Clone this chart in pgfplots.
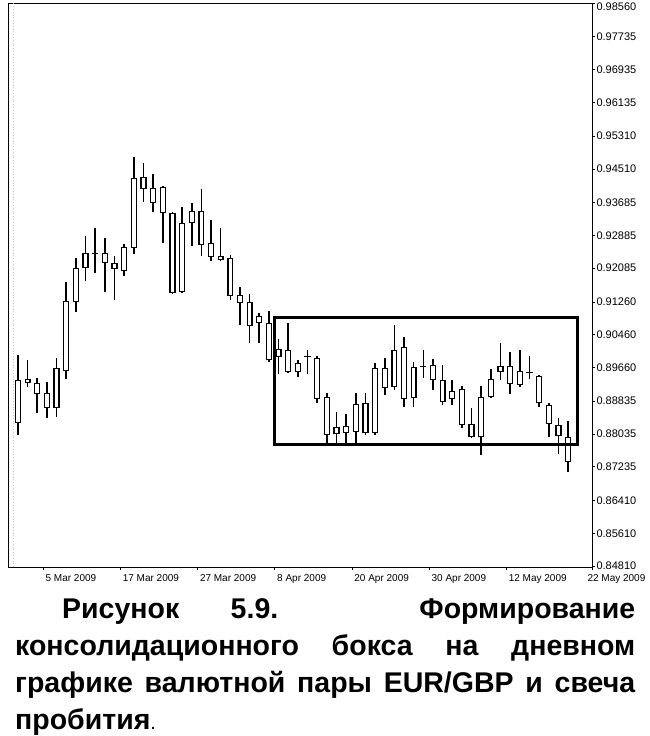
\documentclass[border=0pt]{standalone}
\usepackage{pgfplots}
\pgfplotsset{compat=1.18}
\usepackage{pgfplotstable}
\usepackage{fontspec}
\setmainfont{Liberation Sans}

\pgfplotstableread{
i lo hi bb bt
0 0.88009 0.89963 0.88302 0.89352
1 0.89181 0.89841 0.89279 0.89377
2 0.88546 0.89401 0.89010 0.89279
3 0.88424 0.89303 0.88668 0.89035
4 0.88449 0.89890 0.88668 0.89645
5 0.89377 0.91746 0.89572 0.91282
6 0.91013 0.92332 0.91257 0.92088
7 0.91770 0.92869 0.92088 0.92454
8 0.91966 0.93065 0.92430 0.92454
9 0.91501 0.92820 0.92210 0.92454
10 0.91306 0.92381 0.92063 0.92210
11 0.91892 0.92674 0.92014 0.92601
12 0.92430 0.94799 0.92576 0.94286
13 0.93700 0.94652 0.94017 0.94310
14 0.93455 0.94383 0.93675 0.94042
15 0.92698 0.94090 0.93431 0.94066
16 0.91453 0.93455 0.91477 0.93431
17 0.91477 0.93577 0.91501 0.93187
18 0.92625 0.93675 0.93187 0.93480
19 0.92381 0.94017 0.92649 0.93480
20 0.92259 0.93260 0.92356 0.92698
21 0.92259 0.93065 0.92283 0.92381
22 0.91306 0.92405 0.91404 0.92332
23 0.90696 0.91624 0.91233 0.91428
24 0.90256 0.91453 0.90671 0.91257
25 0.90256 0.90989 0.90744 0.90915
26 0.89792 0.91037 0.89841 0.90744
27 0.89499 0.90354 0.89914 0.90109
28 0.89523 0.90744 0.89548 0.90085
29 0.89425 0.89841 0.89548 0.89767
30 0.89499 0.90085 0.89914 0.89938
31 0.88790 0.89938 0.88888 0.89890
32 0.87814 0.89035 0.88009 0.88937
33 0.87814 0.88571 0.88033 0.88204
34 0.87814 0.88522 0.88058 0.88229
35 0.87814 0.89035 0.88082 0.88766
36 0.88009 0.89035 0.88058 0.88790
37 0.88009 0.89767 0.88058 0.89645
38 0.88986 0.89890 0.89157 0.89645
39 0.89108 0.90696 0.89181 0.90085
40 0.88693 0.90402 0.88888 0.90158
41 0.88693 0.89792 0.88913 0.89670
42 0.89401 0.90085 0.89670 0.89694
43 0.89108 0.89865 0.89352 0.89719
44 0.88742 0.89719 0.88815 0.89352
45 0.88742 0.89352 0.88888 0.89084
46 0.88180 0.89206 0.88253 0.89132
47 0.87936 0.88668 0.87960 0.88278
48 0.87521 0.89206 0.87960 0.88937
49 0.88913 0.89621 0.88937 0.89377
50 0.89352 0.90256 0.89548 0.89694
51 0.89010 0.90036 0.89255 0.89694
52 0.89181 0.90085 0.89230 0.89572
53 0.89377 0.89938 0.89523 0.89548
54 0.88693 0.89474 0.88790 0.89450
55 0.87960 0.88790 0.88278 0.88742
56 0.87545 0.88424 0.87985 0.88253
57 0.87105 0.88351 0.87350 0.87960
}\candles

\begin{document}
\begin{tikzpicture}
\useasboundingbox (0,0) rectangle (650pt,-736pt);
\begin{axis}[
  at={(8pt,-3pt)}, anchor=north west,
  scale only axis, width=584pt, height=564pt,
  xmin=-1.036, xmax=59.48, ymin=0.84785, ymax=0.98560,
  axis line style={black, line width=0.8pt},
  xtick pos=left, ytick pos=right, yticklabel pos=right,
  tick align=outside, major tick length=3pt,
  tick style={black, line width=0.6pt},
  ytick={0.84810,0.85610,0.86410,0.87235,0.88035,0.88835,0.89660,0.90460,0.91260,0.92085,0.92885,0.93685,0.94510,0.95310,0.96135,0.96935,0.97735},
  yticklabels={0.84810,0.85610,0.86410,0.87235,0.88035,0.88835,0.89660,0.90460,0.91260,0.92085,0.92885,0.93685,0.94510,0.95310,0.96135,0.96935,0.97735},
  yticklabel style={font=\fontsize{11}{13}\selectfont, anchor=west, xshift=-2pt},
  extra y ticks={0.98560},
  extra y tick labels={0.98560},
  extra y tick style={yticklabel style={anchor=west, yshift=-3.5pt}},
  xtick={2.6,10.6,18.6,26.6,34.6,42.6,50.6},
  xticklabels={5 Mar 2009,17 Mar 2009,27 Mar 2009,8 Apr 2009,20 Apr 2009,30 Apr 2009,12 May 2009},
  xticklabel style={font=\fontsize{10}{12}\selectfont, anchor=north west, xshift=-1pt, yshift=-1pt},
  extra x ticks={59.48},
  extra x tick labels={22 May 2009},
  extra x tick style={xticklabel style={anchor=north west, xshift=-7pt}},
  clip=true,
]
% faint dotted separator near left edge
\addplot[gray!45, dotted, line width=0.8pt, forget plot] coordinates {(-0.5,0.84785) (-0.5,0.98560)};
% wicks
\addplot[draw=none, forget plot,
  error bars/.cd, y dir=plus, y explicit, error mark=none,
  error bar style={draw=black, line width=1.6pt, line cap=butt}]
  table[x=i, y=lo, y error plus expr=\thisrow{hi}-\thisrow{lo}] {\candles};
% bodies (outline)
\addplot[draw=none, forget plot,
  error bars/.cd, y dir=plus, y explicit, error mark=none,
  error bar style={draw=black, line width=6.2pt, line cap=butt}]
  table[x=i, y=bb, y error plus expr=\thisrow{bt}-\thisrow{bb}] {\candles};
% bodies (hollow interior)
\addplot[draw=none, forget plot,
  error bars/.cd, y dir=plus, y explicit, error mark=none,
  error bar style={draw=white, line width=3.6pt, line cap=butt}]
  table[x=i, y expr=\thisrow{bb}+0.00032, y error plus expr={max(\thisrow{bt}-\thisrow{bb}-0.00064,0)}] {\candles};
% consolidation box
\addplot[black, line width=3pt, forget plot] coordinates {(26.53,0.90891) (57.93,0.90891) (57.93,0.87789) (26.53,0.87789)} -- cycle;
\end{axis}
\node[anchor=north west, inner sep=0pt, text width=620pt, align=justify,
  font=\fontsize{28.5}{37}\selectfont\bfseries] at (15pt,-598pt)
  {\hspace*{47pt}Рисунок 5.9. Формирование\linebreak консолидационного бокса на дневном\linebreak графике валютной пары EUR/GBP и свеча\linebreak пробития{\mdseries\fontsize{20}{20}\selectfont .}};
\end{tikzpicture}
\end{document}
